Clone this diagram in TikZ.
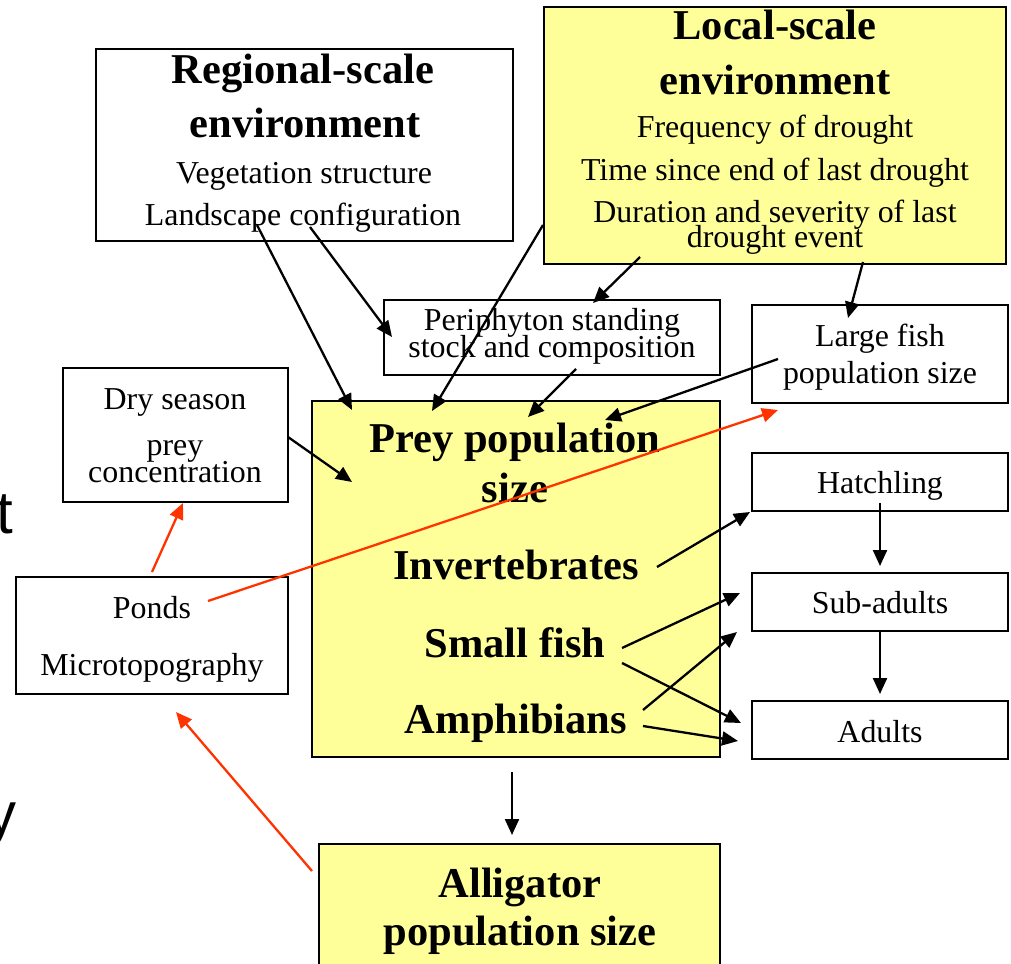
\documentclass[tikz,border=0pt]{standalone}
\usepackage{fontspec}
\setmainfont{Liberation Serif}
\newfontfamily\slidesans{Liberation Sans}
\usetikzlibrary{arrows.meta}
\definecolor{boxyellow}{HTML}{FFFF99}
\definecolor{linkred}{HTML}{FF3300}
\tikzset{
  frame/.style={draw=black, line width=1.8pt, inner sep=0pt, outer sep=0pt},
  yframe/.style={frame, fill=boxyellow},
  lbl/.style={inner sep=0pt, anchor=base, font=\fontsize{31.9}{36}\selectfont},
  head/.style={inner sep=0pt, anchor=base, font=\bfseries\fontsize{42.5}{48}\selectfont},
  link/.style={line width=2.3pt, -{Triangle[length=16pt,width=14pt]}},
  redlink/.style={link, draw=linkred},
  bigsans/.style={inner sep=0pt, anchor=base west, font=\slidesans\fontsize{60}{60}\selectfont},
}
\begin{document}
\begin{tikzpicture}[x=1pt,y=-1pt]
\useasboundingbox (0,0) rectangle (1011,963);
\fill[white] (0,0) rectangle (1011,963);

% letters of the slide text at the left edge
\node[bigsans] (tletter) at (-4,533) {t};
\node[bigsans] (yletter) at (-14,834) {y};

% boxes
\node[frame,  minimum width=417pt, minimum height=192pt] (reg)   at (304.5,145) {};
\node[yframe, minimum width=462pt, minimum height=257pt] (loc)   at (775,135.5) {};
\node[frame,  minimum width=336pt, minimum height=75pt]  (peri)  at (552,337.5) {};
\node[frame,  minimum width=256pt, minimum height=98pt]  (lfish) at (880,354) {};
\node[frame,  minimum width=225pt, minimum height=134pt] (dry)   at (175.5,435) {};
\node[yframe, minimum width=408pt, minimum height=356pt] (prey)  at (516,579) {};
\node[frame,  minimum width=272pt, minimum height=117pt] (ponds) at (152,635.5) {};
\node[frame,  minimum width=256pt, minimum height=58pt]  (hatch) at (880,482) {};
\node[frame,  minimum width=256pt, minimum height=58pt]  (sub)   at (880,602) {};
\node[frame,  minimum width=256pt, minimum height=58pt]  (adult) at (880,730) {};
\node[yframe, minimum width=401pt, minimum height=141pt] (alli)  at (519.5,914.5) {};

% regional-scale environment
\node[head] (regA) at (303,84)  {Regional-scale};
\node[head] (regB) at (305,137) {environment};
\node[lbl]  (regC) at (304,183) {Vegetation structure};
\node[lbl]  (regD) at (303,225) {Landscape configuration};

% local-scale environment
\node[head] (locA) at (775,40)  {Local-scale};
\node[head] (locB) at (775,95)  {environment};
\node[lbl]  (locC) at (775,138) {Frequency of drought};
\node[lbl]  (locD) at (775,180) {Time since end of last drought};
\node[lbl]  (locE) at (775,222) {Duration and severity of last};
\node[lbl]  (locF) at (775,247) {drought event};

% periphyton and large fish
\node[lbl] (periA) at (552,330) {Periphyton standing};
\node[lbl] (periB) at (552,357) {stock and composition};
\node[lbl] (lfishA) at (880,346) {Large fish};
\node[lbl] (lfishB) at (880,383) {population size};

% dry season and ponds
\node[lbl] (dryA) at (175,409) {Dry season};
\node[lbl] (dryB) at (175,455) {prey};
\node[lbl] (dryC) at (175,482) {concentration};
\node[lbl] (pondA) at (152,618) {Ponds};
\node[lbl] (pondB) at (152,675) {Microtopography};

% prey population
\node[head] (preyA) at (515,452) {Prey population};
\node[head] (preyB) at (515,502) {size};
\node[head] (inv)   at (516,579) {Invertebrates};
\node[head] (smf)   at (515,657) {Small fish};
\node[head] (amph)  at (516,733) {Amphibians};

% life stages
\node[lbl] (hatchA) at (880,493) {Hatchling};
\node[lbl] (subA)   at (880,613) {Sub-adults};
\node[lbl] (adultA) at (880,742) {Adults};

% alligators
\node[head] (alliA) at (520,897) {Alligator};
\node[head] (alliB) at (520,945) {population size};

% connector end points
\coordinate (c1s) at (257,225);  \coordinate (c1e) at (352,410);
\coordinate (c2s) at (310,227);  \coordinate (c2e) at (392,337);
\coordinate (c3s) at (543,225);  \coordinate (c3e) at (432,411);
\coordinate (c4s) at (640,257);  \coordinate (c4e) at (593,303);
\coordinate (c5s) at (863,262);  \coordinate (c5e) at (848,318);
\coordinate (c6s) at (576,369);  \coordinate (c6e) at (528,417);
\coordinate (c7s) at (778,359);  \coordinate (c7e) at (605,420);
\coordinate (c8s) at (288,437);  \coordinate (c8e) at (352,482);
\coordinate (r1s) at (152,572);  \coordinate (r1e) at (183,503);
\coordinate (r2s) at (208,601);  \coordinate (r2e) at (778,410);
\coordinate (r3s) at (312,871);  \coordinate (r3e) at (176,712);
\coordinate (s1s) at (657,567);  \coordinate (s1e) at (750,512);
\coordinate (s2s) at (622,648);  \coordinate (s2e) at (740,593);
\coordinate (s3s) at (622,663);  \coordinate (s3e) at (741,723);
\coordinate (s4s) at (643,710);  \coordinate (s4e) at (737,632);
\coordinate (s5s) at (643,726);  \coordinate (s5e) at (738,741);
\coordinate (p1s) at (512,772);  \coordinate (p1e) at (512,835);
\coordinate (h1s) at (880,503);  \coordinate (h1e) at (880,566);
\coordinate (h2s) at (880,631);  \coordinate (h2e) at (880,694);

% environment drivers
\draw[link] (c1s) -- (c1e);
\draw[link] (c2s) -- (c2e);
\draw[link] (c3s) -- (c3e);
\draw[link] (c4s) -- (c4e);
\draw[link] (c5s) -- (c5e);
\draw[link] (c6s) -- (c6e);
\draw[link] (c7s) -- (c7e);
\draw[link] (c8s) -- (c8e);

% feedbacks
\draw[redlink] (r1s) -- (r1e);
\draw[redlink] (r2s) -- (r2e);
\draw[redlink] (r3s) -- (r3e);

% prey to life stages
\draw[link] (s1s) -- (s1e);
\draw[link] (s2s) -- (s2e);
\draw[link] (s3s) -- (s3e);
\draw[link] (s4s) -- (s4e);
\draw[link] (s5s) -- (s5e);

% prey to alligators, stage transitions
\draw[link] (p1s) -- (p1e);
\draw[link] (h1s) -- (h1e);
\draw[link] (h2s) -- (h2e);
\end{tikzpicture}
\end{document}
